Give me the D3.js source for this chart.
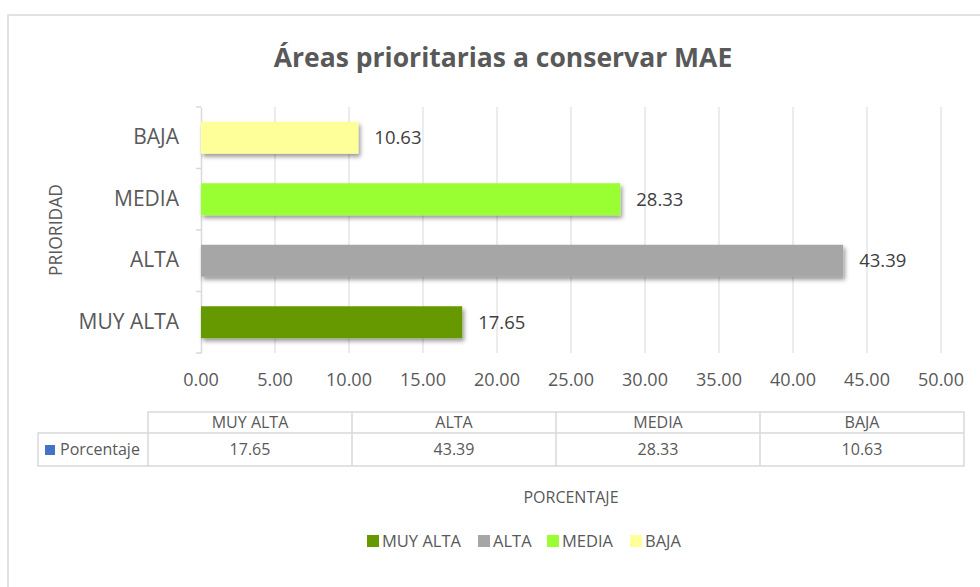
<!DOCTYPE html>
<html>
<head>
<meta charset="utf-8">
<script src="https://cdn.jsdelivr.net/npm/d3@7"></script>
<style>
  body { margin: 0; background: #fff; }
  text { font-family: "Open Sans", sans-serif; fill: #595959; }
</style>
</head>
<body>
<div id="viz"></div>
<script>
// data
var categories = ["MUY ALTA", "ALTA", "MEDIA", "BAJA"];
var values = [17.65, 43.39, 28.33, 10.63];
var colors = ["#669900", "#a6a6a6", "#99ff33", "#ffff99"];
var xTicks = [0, 5, 10, 15, 20, 25, 30, 35, 40, 45, 50];
var seriesName = "Porcentaje";

var width = 980, height = 587;
var plot = { left: 201, right: 941, top: 107, bottom: 353 };

var svg = d3.select("#viz").append("svg")
  .attr("width", width)
  .attr("height", height);

var defs = svg.append("defs");
defs.append("filter")
  .attr("id", "shadow")
  .attr("x", "-5%").attr("y", "-30%")
  .attr("width", "115%").attr("height", "180%")
  .append("feDropShadow")
    .attr("dx", 2).attr("dy", 3)
    .attr("stdDeviation", 2)
    .attr("flood-color", "#000")
    .attr("flood-opacity", 0.4);

// chart frame
svg.append("rect")
  .attr("x", 8).attr("y", 15)
  .attr("width", 1000).attr("height", 600)
  .attr("fill", "#fff")
  .attr("stroke", "#d9d9d9")
  .attr("stroke-width", 1.5);

svg.append("text")
  .attr("x", 503).attr("y", 67)
  .attr("text-anchor", "middle")
  .style("font-size", "26.5px")
  .style("font-weight", "bold")
  .text("Áreas prioritarias a conservar MAE");

var x = d3.scaleLinear().domain([0, 50]).range([plot.left, plot.right]);
var y = d3.scaleBand().domain(categories.slice().reverse())
  .range([plot.top, plot.bottom])
  .paddingInner(0.48).paddingOuter(0.24);

// gridlines
svg.append("g")
  .selectAll("line")
  .data(xTicks.slice(1))
  .enter().append("line")
    .attr("x1", function(d) { return x(d); })
    .attr("x2", function(d) { return x(d); })
    .attr("y1", plot.top)
    .attr("y2", plot.bottom)
    .attr("stroke", "#d9d9d9")
    .attr("stroke-width", 1);

// x tick labels
svg.append("g")
  .selectAll("text")
  .data(xTicks)
  .enter().append("text")
    .attr("x", function(d) { return x(d); })
    .attr("y", 380)
    .attr("dy", "0.35em")
    .attr("text-anchor", "middle")
    .style("font-size", "18px")
    .text(function(d) { return d.toFixed(2); });

// y axis
var yAxis = svg.append("g")
  .attr("transform", "translate(" + plot.left + ",0)")
  .call(d3.axisLeft(y).tickSize(0).tickPadding(22));
yAxis.select(".domain").attr("stroke", "#d9d9d9").attr("stroke-width", 1.5);
yAxis.selectAll(".tick text")
  .style("font-size", "21px")
  .style("font-family", "'Open Sans', sans-serif")
  .attr("fill", "#595959");

var step = y.step();
var bounds = d3.range(categories.length + 1).map(function(i) { return plot.top + i * step; });
yAxis.selectAll(".bound")
  .data(bounds)
  .enter().append("line")
    .attr("class", "bound")
    .attr("x1", -5).attr("x2", 0)
    .attr("y1", function(d) { return d; })
    .attr("y2", function(d) { return d; })
    .attr("stroke", "#d9d9d9")
    .attr("stroke-width", 1.5);

svg.append("text")
  .attr("transform", "translate(62,230) rotate(-90)")
  .attr("text-anchor", "middle")
  .style("font-size", "17.5px")
  .text("PRIORIDAD");

// bars
var bars = svg.append("g").selectAll("g")
  .data(categories)
  .enter().append("g");

bars.append("rect")
  .attr("x", x(0))
  .attr("y", function(d) { return y(d); })
  .attr("width", function(d, i) { return x(values[i]) - x(0); })
  .attr("height", y.bandwidth())
  .attr("fill", function(d, i) { return colors[i]; })
  .attr("filter", "url(#shadow)");

bars.append("text")
  .attr("x", function(d, i) { return x(values[i]) + 16; })
  .attr("y", function(d) { return y(d) + y.bandwidth() / 2; })
  .attr("dy", "0.35em")
  .style("font-size", "18.5px")
  .style("fill", "#404040")
  .text(function(d, i) { return values[i].toFixed(2); });

// data table
var tbl = { left: 148, right: 964, top: 412, mid: 433, bottom: 466, labelLeft: 38 };
var cols = d3.scaleBand().domain(categories).range([tbl.left, tbl.right]);
var t = svg.append("g");
var lineStyle = function(sel) {
  sel.attr("stroke", "#d9d9d9").attr("stroke-width", 1.5).attr("fill", "none");
};

t.append("path")
  .attr("d", "M" + tbl.left + "," + tbl.bottom + "V" + tbl.top + "H" + tbl.right + "V" + tbl.bottom + "H" + tbl.labelLeft + "V" + tbl.mid + "H" + tbl.right)
  .call(lineStyle);
t.selectAll(".col")
  .data(categories.slice(1))
  .enter().append("line")
    .attr("x1", function(d) { return cols(d); })
    .attr("x2", function(d) { return cols(d); })
    .attr("y1", tbl.top).attr("y2", tbl.bottom)
    .call(lineStyle);

t.selectAll(".hdr")
  .data(categories)
  .enter().append("text")
    .attr("x", function(d) { return cols(d) + cols.bandwidth() / 2; })
    .attr("y", (tbl.top + tbl.mid) / 2)
    .attr("dy", "0.35em")
    .attr("text-anchor", "middle")
    .style("font-size", "16px")
    .text(function(d) { return d; });

t.selectAll(".val")
  .data(values)
  .enter().append("text")
    .attr("x", function(d, i) { return cols(categories[i]) + cols.bandwidth() / 2; })
    .attr("y", (tbl.mid + tbl.bottom) / 2)
    .attr("dy", "0.35em")
    .attr("text-anchor", "middle")
    .style("font-size", "16px")
    .text(function(d) { return d.toFixed(2); });

t.append("rect")
  .attr("x", 45).attr("y", 445)
  .attr("width", 10).attr("height", 10)
  .attr("fill", "#4472c4");
t.append("text")
  .attr("x", 60).attr("y", 449.5)
  .attr("dy", "0.35em")
  .style("font-size", "16px")
  .text(seriesName);

svg.append("text")
  .attr("x", 571).attr("y", 497)
  .attr("dy", "0.35em")
  .attr("text-anchor", "middle")
  .style("font-size", "16px")
  .text("PORCENTAJE");

// legend
var legendX = [367, 478, 547, 630];
var legend = svg.append("g").selectAll("g")
  .data(categories)
  .enter().append("g")
    .attr("transform", function(d, i) { return "translate(" + legendX[i] + ",541)"; });
legend.append("rect")
  .attr("x", 0).attr("y", -6)
  .attr("width", 12).attr("height", 12)
  .attr("fill", function(d, i) { return colors[i]; });
legend.append("text")
  .attr("x", 15).attr("y", 0)
  .attr("dy", "0.35em")
  .style("font-size", "16.5px")
  .text(function(d) { return d; });
</script>
</body>
</html>
